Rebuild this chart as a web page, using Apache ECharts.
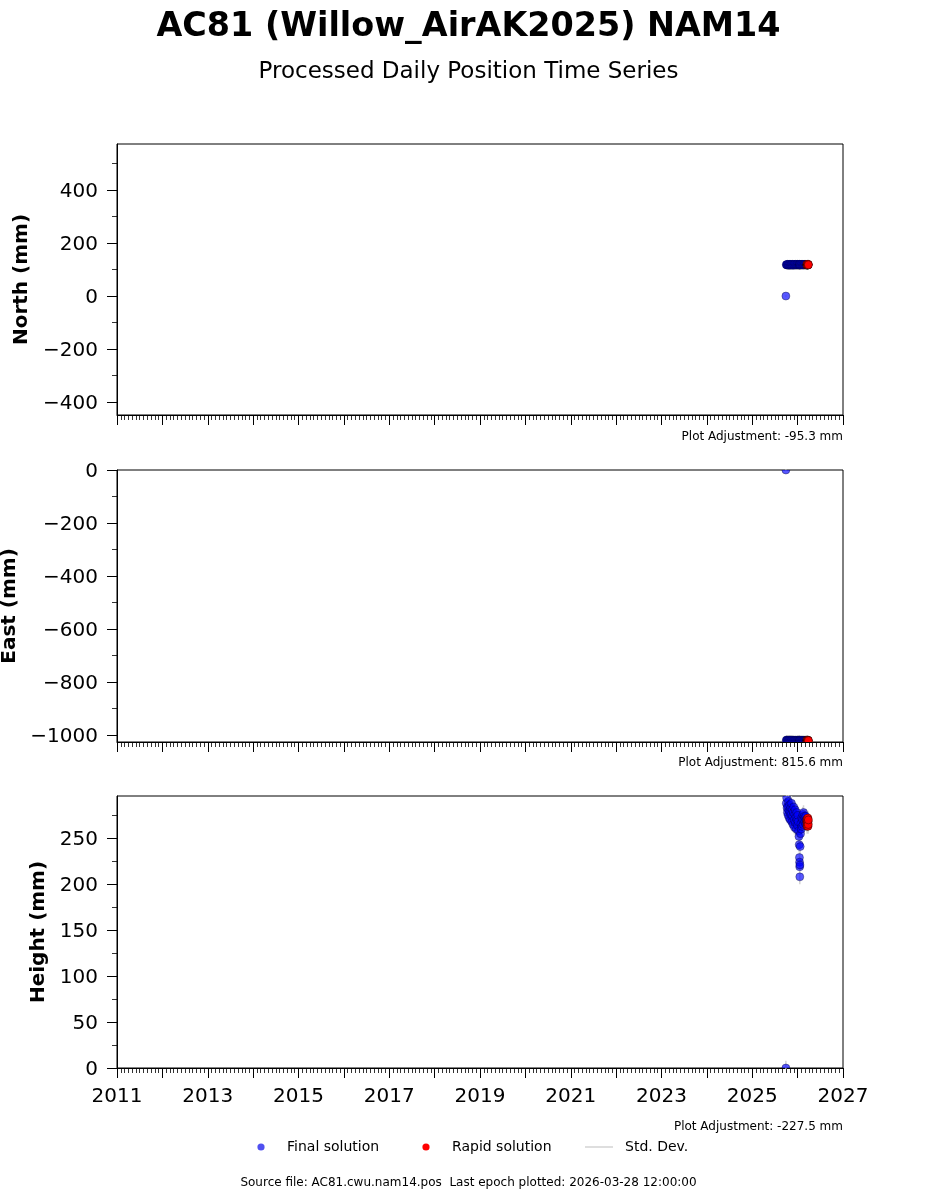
<!DOCTYPE html>
<html>
<head>
<meta charset="utf-8">
<script src="https://cdn.jsdelivr.net/npm/echarts@6/dist/echarts.min.js"></script>
<style>
html,body{margin:0;padding:0;background:#fff;}
#chart{width:937px;height:1200px;}
</style>
</head>
<body>
<div id="chart"></div>
<script>
// ---------------- data ----------------
const finalDates = [
  '2025-09-28','2025-10-01','2025-10-04','2025-10-07','2025-10-10','2025-10-13','2025-10-16','2025-10-19',
  '2025-10-22','2025-10-25','2025-10-28','2025-10-31','2025-11-03','2025-11-06','2025-11-09','2025-11-12',
  '2025-11-15','2025-11-18','2025-11-21','2025-11-24','2025-11-27','2025-11-30','2025-12-03','2025-12-06',
  '2025-12-09','2025-12-12','2025-12-15','2025-12-18','2025-12-21','2025-12-24','2025-12-27','2025-12-30',
  '2026-01-02','2026-01-05','2026-01-08','2026-01-11','2026-01-13','2026-01-15','2026-01-16','2026-01-17',
  '2026-01-18','2026-01-19','2026-01-21','2026-01-24','2026-01-27','2026-01-30','2026-02-02','2026-02-05',
  '2026-02-08','2026-02-11','2026-02-14','2026-02-17','2026-02-20','2026-02-23','2026-02-26','2026-03-01',
  '2026-03-04','2026-03-07','2026-03-10','2026-03-13'
];
const finalNorth = [
  0,118,119,117,118,120,117,118,119,116,118,120,117,118,119,117,
  118,120,118,116,119,118,117,119,118,120,117,118,119,117,118,120,
  118,117,119,118,117,119,118,120,117,118,119,118,117,119,118,120,
  117,118,119,118,117,119,118,120,118,117,119,118
];
const finalEast = [
  0,-1019,-1020,-1018,-1021,-1019,-1020,-1022,-1019,-1020,-1018,-1021,-1019,-1020,-1022,-1019,
  -1020,-1018,-1021,-1020,-1019,-1021,-1020,-1022,-1019,-1020,-1021,-1019,-1020,-1022,-1020,-1019,
  -1021,-1020,-1018,-1020,-1021,-1019,-1020,-1022,-1020,-1021,-1019,-1020,-1021,-1019,-1020,-1022,
  -1019,-1020,-1021,-1019,-1020,-1022,-1020,-1019,-1021,-1020,-1019,-1020
];
const finalUp = [
  0,288,294,283,278,285,275,290,280,272,286,279,270,283,276,288,
  268,281,274,265,278,284,270,262,276,281,267,273,260,278,270,264,
  275,268,258,252,243,229,224,219,208,221,241,255,266,260,272,263,
  270,276,265,278,270,274,268,272,266,274,270,268
];
const rapidDates = [
  '2026-03-15','2026-03-16','2026-03-17','2026-03-18','2026-03-19','2026-03-20','2026-03-21',
  '2026-03-22','2026-03-23','2026-03-24','2026-03-25','2026-03-26','2026-03-27','2026-03-28'
];
const rapidNorth = [118,119,117,118,120,118,117,119,118,117,119,118,120,118];
const rapidEast = [-1020,-1021,-1019,-1022,-1020,-1021,-1019,-1020,-1022,-1020,-1021,-1019,-1020,-1021];
const rapidUp = [268,265,271,263,267,270,264,269,266,272,263,268,265,270];
const sdNorth = 2, sdEast = 3, sdUp = 8;

const yearTicks = [2011, 2027];
const northRange = [-449, 574];
const eastRange = [-1026, 0];
const upRange = [0, 296];
const northTicks = [-400, -200, 0, 200, 400];
const northMinor = [-400, -300, -200, -100, 0, 100, 200, 300, 400, 500];
const eastTicks = [-1000, -800, -600, -400, -200, 0];
const eastMinor = [-1000, -900, -800, -700, -600, -500, -400, -300, -200, -100, 0];
const upTicks = [0, 50, 100, 150, 200, 250];
const upMinor = [0, 25, 50, 75, 100, 125, 150, 175, 200, 225, 250, 275];
const adjustments = ['Plot Adjustment: -95.3 mm', 'Plot Adjustment: 815.6 mm', 'Plot Adjustment: -227.5 mm'];
const axisNames = ['North (mm)', 'East (mm)', 'Height (mm)'];
const legendNames = ['Final solution', 'Rapid solution', 'Std. Dev.'];

// ---------------- helpers ----------------
function decYear(s) {
  const [y, m, d] = s.split('-').map(Number);
  const start = Date.UTC(y, 0, 1), end = Date.UTC(y + 1, 0, 1);
  const t = Date.UTC(y, m - 1, d, 12);
  return y + (t - start) / (end - start);
}
const FONT = 'DejaVu Sans';
const fx = finalDates.map(decYear);
const rx = rapidDates.map(decYear);
const minus = v => String(v).replace('-', '\u2212');

const BLUE = 'rgba(0,0,255,0.66)';
const BLUE_LEGEND = '#5050f0';
const RED = '#ff0000';
const SDGRAY = '#d3d3d3';
const MARKER_R = 4;

const grids = [
  {left: 117, top: 144, width: 726, height: 271},
  {left: 117, top: 470, width: 726, height: 272},
  {left: 117, top: 796, width: 726, height: 272}
].map(g => Object.assign(g, {show: true, borderColor: '#000', borderWidth: 1, backgroundColor: 'transparent',
  containLabel: false, outerBoundsMode: 'none'}));

const xAxes = [0, 1, 2].map(i => ({
  type: 'value', gridIndex: i, min: yearTicks[0], max: yearTicks[1], interval: 1,
  axisLine: {show: true, onZero: false, lineStyle: {color: '#000', width: 1}},
  axisTick: {show: true, length: 10, lineStyle: {color: '#000', width: 1}},
  minorTick: {show: true, splitNumber: 12, length: 5, lineStyle: {color: '#000', width: 0.8}},
  splitLine: {show: false}, minorSplitLine: {show: false},
  axisLabel: {
    show: i === 2, margin: 19, fontSize: 20, fontFamily: FONT, color: '#000',
    showMinLabel: true, showMaxLabel: true, hideOverlap: false,
    formatter: v => (Math.round(v) % 2 === 1 ? String(Math.round(v)) : '')
  }
}));

const ranges = [northRange, eastRange, upRange];
const majors = [northTicks, eastTicks, upTicks];
const minors = [northMinor, eastMinor, upMinor];
const nameGaps = [84, 96, 62];
const yAxes = [];
[0, 1, 2].forEach(i => {
  yAxes.push({
    type: 'value', gridIndex: i, min: ranges[i][0], max: ranges[i][1],
    name: axisNames[i], nameLocation: 'middle', nameGap: nameGaps[i], nameRotate: 90,
    nameTextStyle: {fontSize: 20, fontWeight: 'bold', fontFamily: FONT, color: '#000'},
    axisLine: {show: true, onZero: false, lineStyle: {color: '#000', width: 1}},
    axisTick: {show: true, length: 10, customValues: majors[i], lineStyle: {color: '#000', width: 1}},
    axisLabel: {show: true, margin: 19, customValues: majors[i], fontSize: 20, fontFamily: FONT, color: '#000',
      verticalAlign: 'top', lineHeight: 4, formatter: v => minus(v)},
    splitLine: {show: false}
  });
  yAxes.push({
    type: 'value', gridIndex: i, min: ranges[i][0], max: ranges[i][1], position: 'left',
    axisLine: {show: false, onZero: false},
    axisTick: {show: true, length: 5, customValues: minors[i], lineStyle: {color: '#000', width: 0.8}},
    axisLabel: {show: false},
    splitLine: {show: false}
  });
});

function dotRenderer(fill, stroke) {
  return function (params, api) {
    const p = api.coord([api.value(0), api.value(1)]);
    return {
      type: 'circle',
      shape: {cx: p[0], cy: p[1], r: MARKER_R},
      style: {fill: fill, stroke: stroke, lineWidth: 0.5}
    };
  };
}

const finals = [finalNorth, finalEast, finalUp];
const rapids = [rapidNorth, rapidEast, rapidUp];
const sds = [sdNorth, sdEast, sdUp];
const series = [];
[0, 1, 2].forEach(i => {
  const segs = [];
  fx.forEach((x, k) => { segs.push([x, finals[i][k] - sds[i]], [x, finals[i][k] + sds[i]], [x, '-']); });
  rx.forEach((x, k) => { segs.push([x, rapids[i][k] - sds[i]], [x, rapids[i][k] + sds[i]], [x, '-']); });
  series.push({
    name: legendNames[2], type: 'line', xAxisIndex: i, yAxisIndex: 2 * i, data: segs,
    symbol: 'none', connectNulls: false, clip: true, silent: true, z: 1,
    lineStyle: {color: SDGRAY, width: 1.5}, itemStyle: {color: SDGRAY}
  });
  series.push({
    name: legendNames[0], type: 'custom', xAxisIndex: i, yAxisIndex: 2 * i, clip: true, z: 2, silent: true,
    data: fx.map((x, k) => [x, finals[i][k]]),
    renderItem: dotRenderer(BLUE, 'rgba(0,0,30,0.7)')
  });
  series.push({
    name: legendNames[1], type: 'custom', xAxisIndex: i, yAxisIndex: 2 * i, clip: true, z: 3, silent: true,
    data: rx.map((x, k) => [x, rapids[i][k]]),
    renderItem: dotRenderer(RED, 'rgba(0,0,0,0.8)')
  });
});

const adjTops = [436, 762, 1126];
const graphics = adjustments.map((t, i) => ({
  type: 'text', right: 94, top: adjTops[i] - 5,
  style: {text: t, font: '12px "DejaVu Sans"', fill: '#000', textAlign: 'right'}
}));
graphics.push({
  type: 'text', left: 'center', top: 1177,
  style: {text: 'Source file: AC81.cwu.nam14.pos  Last epoch plotted: 2026-03-28 12:00:00',
    font: '12px "DejaVu Sans"', fill: '#000'}
});
// legend (drawn as graphic keys)
const LY = 1147;
graphics.push(
  {type: 'circle', shape: {cx: 261, cy: LY, r: 3.6}, style: {fill: BLUE_LEGEND}},
  {type: 'text', x: 287, y: LY, style: {text: legendNames[0], font: '14px "DejaVu Sans"', fill: '#000', textVerticalAlign: 'middle'}},
  {type: 'circle', shape: {cx: 426, cy: LY, r: 3.6}, style: {fill: RED}},
  {type: 'text', x: 452, y: LY, style: {text: legendNames[1], font: '14px "DejaVu Sans"', fill: '#000', textVerticalAlign: 'middle'}},
  {type: 'line', shape: {x1: 585, y1: LY, x2: 613, y2: LY}, style: {stroke: SDGRAY, lineWidth: 1.5}},
  {type: 'text', x: 625, y: LY, style: {text: legendNames[2], font: '14px "DejaVu Sans"', fill: '#000', textVerticalAlign: 'middle'}}
);

const chart = echarts.init(document.getElementById('chart'), null, {renderer: 'canvas'});
chart.setOption({
  animation: false,
  backgroundColor: '#fff',
  title: [
    {text: 'AC81 (Willow_AirAK2025) NAM14', left: 'center', top: 6,
      textStyle: {fontSize: 33.4, fontWeight: 'bold', fontFamily: FONT, color: '#000'}},
    {text: 'Processed Daily Position Time Series', left: 'center', top: 56,
      textStyle: {fontSize: 23, fontWeight: 'normal', fontFamily: FONT, color: '#000'}}
  ],
  grid: grids,
  xAxis: xAxes,
  yAxis: yAxes,
  series: series,
  graphic: graphics
});
</script>
</body>
</html>
